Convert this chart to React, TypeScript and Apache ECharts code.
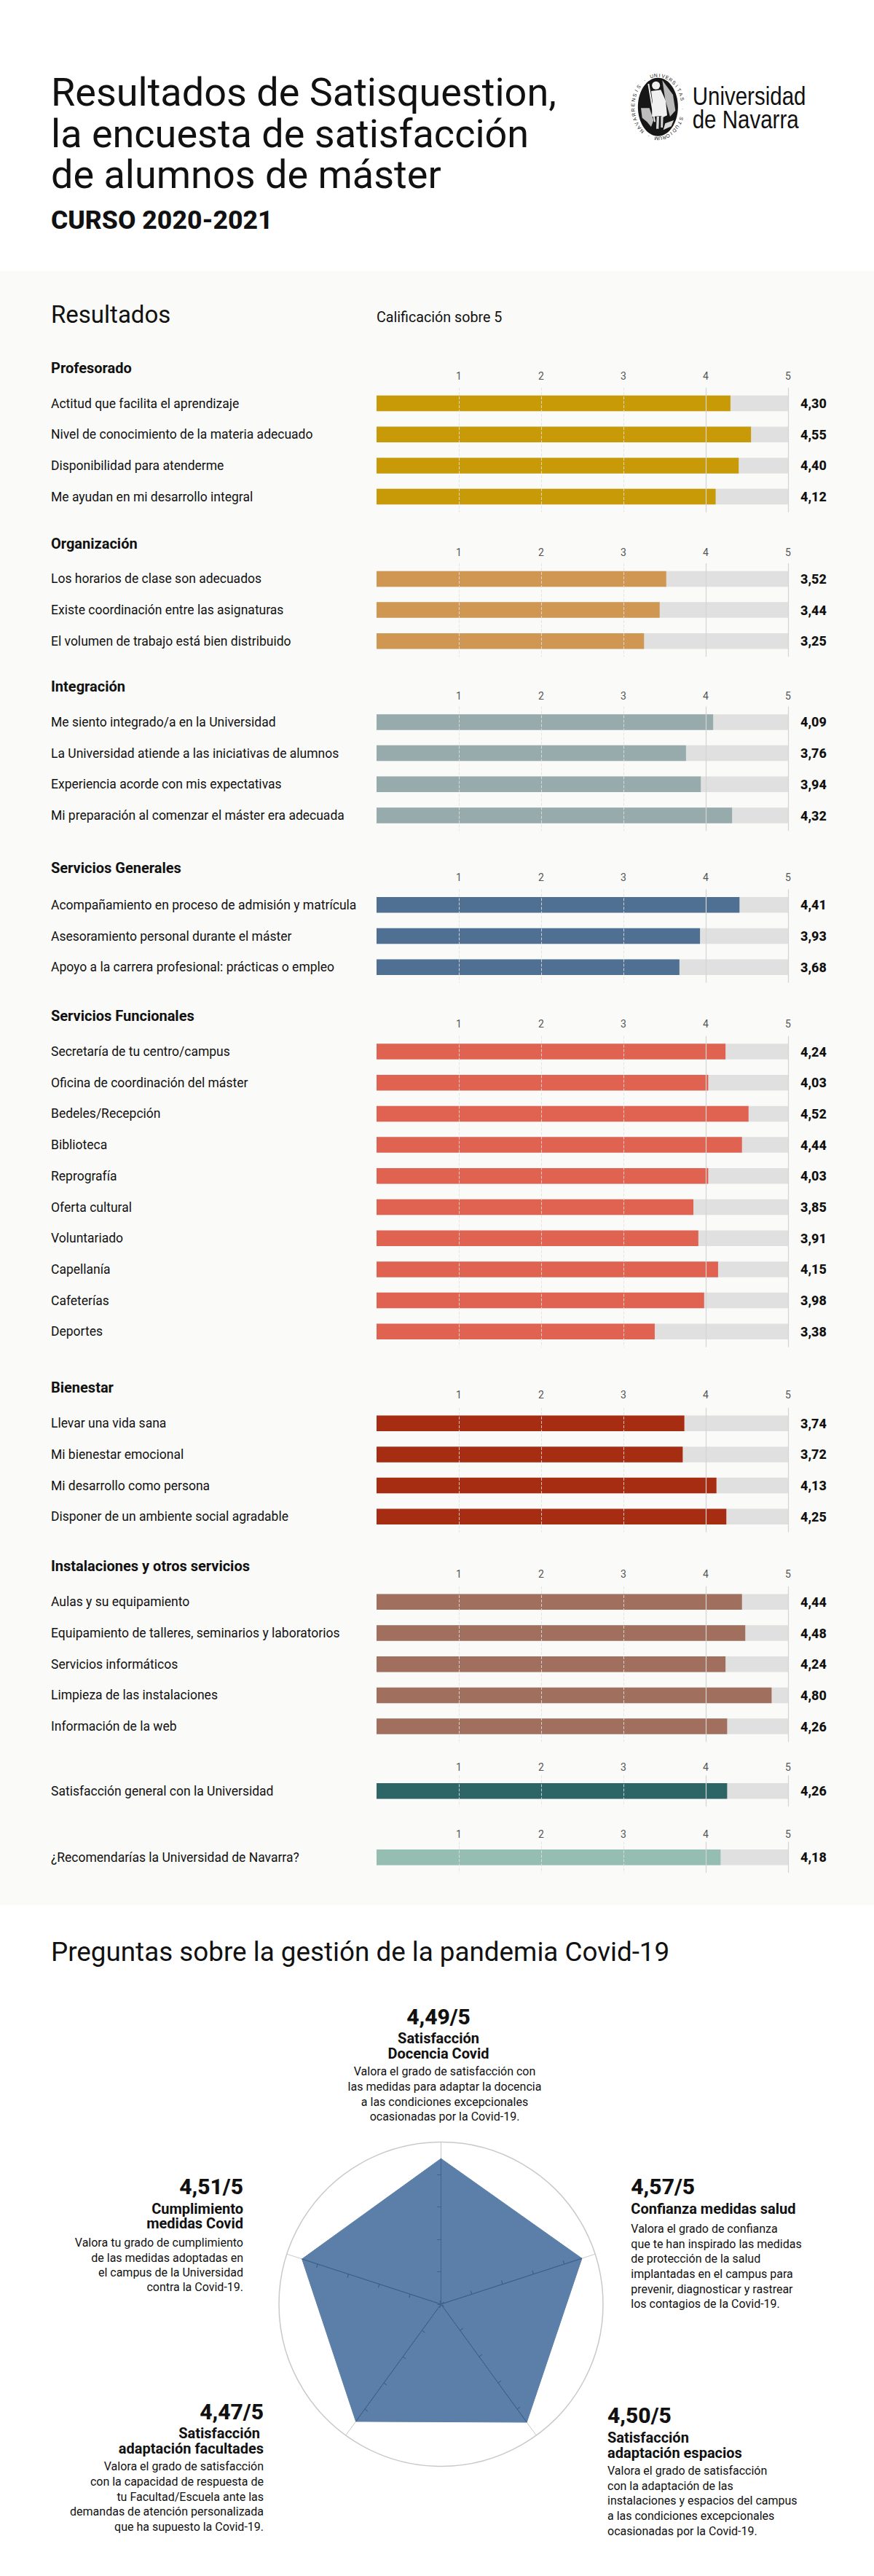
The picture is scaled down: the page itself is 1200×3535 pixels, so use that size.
import React, { useEffect, useRef } from "react";
import * as echarts from "echarts";

const FONT = "Roboto";
const INK = "#111111";
const MAX_SCORE = 5;
const axisTicks = [1, 2, 3, 4, 5];

const profesoradoLabels = ["Actitud que facilita el aprendizaje", "Nivel de conocimiento de la materia adecuado", "Disponibilidad para atenderme", "Me ayudan en mi desarrollo integral"];
const profesoradoValues = [4.3, 4.55, 4.4, 4.12];
const organizacionLabels = ["Los horarios de clase son adecuados", "Existe coordinación entre las asignaturas", "El volumen de trabajo está bien distribuido"];
const organizacionValues = [3.52, 3.44, 3.25];
const integracionLabels = ["Me siento integrado/a en la Universidad", "La Universidad atiende a las iniciativas de alumnos", "Experiencia acorde con mis expectativas", "Mi preparación al comenzar el máster era adecuada"];
const integracionValues = [4.09, 3.76, 3.94, 4.32];
const generalesLabels = ["Acompañamiento en proceso de admisión y matrícula", "Asesoramiento personal durante el máster", "Apoyo a la carrera profesional: prácticas o empleo"];
const generalesValues = [4.41, 3.93, 3.68];
const funcionalesLabels = ["Secretaría de tu centro/campus", "Oficina de coordinación del máster", "Bedeles/Recepción", "Biblioteca", "Reprografía", "Oferta cultural", "Voluntariado", "Capellanía", "Cafeterías", "Deportes"];
const funcionalesValues = [4.24, 4.03, 4.52, 4.44, 4.03, 3.85, 3.91, 4.15, 3.98, 3.38];
const bienestarLabels = ["Llevar una vida sana", "Mi bienestar emocional", "Mi desarrollo como persona", "Disponer de un ambiente social agradable"];
const bienestarValues = [3.74, 3.72, 4.13, 4.25];
const instalacionesLabels = ["Aulas y su equipamiento", "Equipamiento de talleres, seminarios y laboratorios", "Servicios informáticos", "Limpieza de las instalaciones", "Información de la web"];
const instalacionesValues = [4.44, 4.48, 4.24, 4.8, 4.26];
const generalLabels = ["Satisfacción general con la Universidad"];
const generalValues = [4.26];
const recomiendaLabels = ["¿Recomendarías la Universidad de Navarra?"];
const recomiendaValues = [4.18];

const sections = [
  { title: "Profesorado", labels: profesoradoLabels, values: profesoradoValues, color: "#c99a07", first: 553.5, head: 505, tick: 515.5 },
  { title: "Organización", labels: organizacionLabels, values: organizacionValues, color: "#cf9752", first: 794.4, head: 745.8, tick: 758.4 },
  { title: "Integración", labels: integracionLabels, values: integracionValues, color: "#98abac", first: 990.9, head: 942, tick: 954.7 },
  { title: "Servicios Generales", labels: generalesLabels, values: generalesValues, color: "#4f7093", first: 1241.8, head: 1191, tick: 1203.5 },
  { title: "Servicios Funcionales", labels: funcionalesLabels, values: funcionalesValues, color: "#e06352", first: 1443, head: 1394, tick: 1405 },
  { title: "Bienestar", labels: bienestarLabels, values: bienestarValues, color: "#a62d12", first: 1953.2, head: 1904.4, tick: 1913.5 },
  { title: "Instalaciones y otros servicios", labels: instalacionesLabels, values: instalacionesValues, color: "#a06f5e", first: 2198.3, head: 2149.3, tick: 2160.3 },
  { title: "", labels: generalLabels, values: generalValues, color: "#2d6566", first: 2457.8, head: 0, tick: 2425.3 },
  { title: "", labels: recomiendaLabels, values: recomiendaValues, color: "#95bdb2", first: 2548.7, head: 0, tick: 2516.6 },
];

const covidNames = ["Satisfacción Docencia Covid", "Cumplimiento medidas Covid", "Satisfacción adaptación facultades", "Satisfacción adaptación espacios", "Confianza medidas salud"];
const covidValues = [4.49, 4.51, 4.47, 4.5, 4.57];

const covidNotes = [
  { score: "4,49/5", align: "center", scoreX: 602, scoreY: 2767.6, headX: 602, heads: [["Satisfacción", 2796.8], ["Docencia Covid", 2817.7]], bodyX: 610.5, body: [["Valora el grado de satisfacción con", 2842.7], ["las medidas para adaptar la docencia", 2863.3], ["a las condiciones excepcionales", 2884], ["ocasionadas por la Covid-19.", 2904.7]] },
  { score: "4,51/5", align: "right", scoreX: 334, scoreY: 3000.7, headX: 334, heads: [["Cumplimiento", 3030.5], ["medidas Covid", 3050.8]], bodyX: 334, body: [["Valora tu grado de cumplimiento", 3077], ["de las medidas adoptadas en", 3098], ["el campus de la Universidad", 3118.3], ["contra la Covid-19.", 3138.7]] },
  { score: "4,47/5", align: "right", scoreX: 362, scoreY: 3309.6, headX: 362, heads: [["Satisfacción ", 3339.4], ["adaptación facultades", 3359.7]], bodyX: 362, body: [["Valora el grado de satisfacción", 3384.7], ["con la capacidad de respuesta de", 3405.6], ["tu Facultad/Escuela ante las", 3426], ["demandas de atención personalizada", 3446.8], ["que ha supuesto la Covid-19.", 3467.6]] },
  { score: "4,50/5", align: "left", scoreX: 834, scoreY: 3314.4, headX: 834, heads: [["Satisfacción", 3344.8], ["adaptación espacios", 3365.7]], bodyX: 834, body: [["Valora el grado de satisfacción", 3390], ["con la adaptación de las", 3411], ["instalaciones y espacios del campus", 3431.8], ["a las condiciones excepcionales", 3452.3], ["ocasionadas por la Covid-19.", 3473]] },
  { score: "4,57/5", align: "left", scoreX: 866.3, scoreY: 3000.7, headX: 866.3, heads: [["Confianza medidas salud", 3030.5]], bodyX: 866.3, body: [["Valora el grado de confianza", 3058.6], ["que te han inspirado las medidas", 3079.4], ["de protección de la salud", 3099.7], ["implantadas en el campus para", 3120.6], ["prevenir, diagnosticar y rastrear", 3141.4], ["los contagios de la Covid-19.", 3161.7]] },
];

const titleLines: [string, number][] = [["Resultados de Satisquestion,", 126.8], ["la encuesta de satisfacción", 183.2], ["de alumnos de máster", 239.6]];
const sealText = "NAVARRENSIS · UNIVERSITAS · STUDIORUM · ";

const ROW = 42.7;
const LEFT = 517;
const WIDTH = 565;
const RADAR_C = [605.5, 3162];
const RADAR_R = 222.5;

const fmt = (v: number) => v.toFixed(2).replace(".", ",");

function txt(text: string, x: number, y: number, size: number, weight: any = 400, align = "left", fill = INK): any {
  return { type: "text", x, y, z: 20, silent: true, style: { text, fontFamily: FONT, fontSize: size, fontWeight: weight, fill, align, verticalAlign: "middle" } };
}

function logo(): any[] {
  const px = (x: number) => 820 + x / 3;
  const py = (y: number) => 80 + y / 3;
  const poly = (pts: number[][], fill: string) => ({ type: "polygon", z: 21, silent: true, shape: { points: pts.map(([a, b]) => [px(a), py(b)]) }, style: { fill } });
  const cx = px(250), cy = py(200);
  const letters = Array.from(sealText).map((ch, i) => {
    const phi = (i / sealText.length) * Math.PI * 2 + (Math.PI * 1.22);
    return {
      type: "text", z: 21, silent: true,
      x: cx + Math.sin(phi) * 34.5, y: cy - Math.cos(phi) * 43.5,
      rotation: -phi,
      style: { text: ch, fontFamily: "Liberation Sans", fontSize: 6.8, fill: "#222", align: "center", verticalAlign: "middle" },
    };
  });
  return [
    { type: "ellipse", z: 20, silent: true, shape: { cx, cy, rx: 27.5, ry: 40 }, style: { fill: "#161616" } },
    { type: "circle", z: 21, silent: true, shape: { cx: px(242), cy: py(112), r: 5.5 }, style: { fill: "#f0f0f0" } },
    poly([[222, 135], [262, 130], [282, 175], [288, 235], [272, 242], [262, 238], [225, 240], [228, 180]], "#f0f0f0"),
    poly([[268, 90], [312, 150], [322, 215], [300, 240], [280, 170]], "#b9b9b9"),
    poly([[208, 105], [214, 105], [240, 262], [234, 262]], "#f0f0f0"),
    poly([[245, 240], [255, 240], [253, 290], [243, 290]], "#d8d8d8"),
    poly([[262, 240], [272, 240], [270, 285], [262, 285]], "#d8d8d8"),
    poly([[180, 205], [215, 205], [232, 255], [222, 282], [205, 262], [185, 245]], "#bdbdbd"),
    poly([[280, 268], [315, 255], [305, 280], [272, 295]], "#d8d8d8"),
    ...letters,
    { type: "text", z: 20, silent: true, x: 950.7, y: 131.7, scaleY: 1.2, style: { text: "Universidad", fontFamily: "Liberation Sans", fontSize: 29.5, fill: "#111", align: "left", verticalAlign: "middle" } },
    { type: "text", z: 20, silent: true, x: 950.7, y: 164, scaleY: 1.2, style: { text: "de Navarra", fontFamily: "Liberation Sans", fontSize: 29.5, fill: "#111", align: "left", verticalAlign: "middle" } },
  ];
}

function buildOption(): any {
  const grid: any[] = [], xAxis: any[] = [], yAxis: any[] = [], series: any[] = [];
  const graphic: any[] = [
    { type: "rect", z: -10, silent: true, shape: { x: 0, y: 372, width: 1200, height: 2242 }, style: { fill: "#fafaf8" } },
    ...titleLines.map(([t, y]) => txt(t, 70, y, 54)),
    txt("CURSO 2020-2021", 70, 302, 35.6, 800),
    txt("Resultados", 70, 431, 33),
    txt("Calificación sobre 5", 517, 435, 19.7),
    txt("Preguntas sobre la gestión de la pandemia Covid-19", 70, 2678, 36.8),
    ...logo(),
  ];

  sections.forEach((s, i) => {
    const top = s.first - ROW / 2;
    const height = s.values.length * ROW;
    grid.push({ left: LEFT, width: WIDTH, top, height, containLabel: false });
    xAxis.push({
      type: "value", gridIndex: i, min: 0, max: MAX_SCORE, interval: 1, position: "top",
      axisLine: { show: false }, axisTick: { show: false }, splitLine: { show: false },
      axisLabel: { margin: top - s.tick - 7, fontFamily: FONT, fontSize: 14, color: "#555", showMinLabel: false, formatter: (v: number) => (axisTicks.includes(v) ? String(v) : "") },
    });
    yAxis.push({
      type: "category", gridIndex: i, inverse: true, data: s.labels,
      axisLine: { show: false }, axisTick: { show: false },
      axisLabel: { interval: 0, align: "left", margin: LEFT - 70, fontFamily: FONT, fontSize: 17.5, color: INK },
    });
    yAxis.push({
      type: "category", gridIndex: i, inverse: true, position: "right", data: s.values.map(fmt),
      axisLine: { show: false }, axisTick: { show: false },
      axisLabel: { interval: 0, margin: 17, fontFamily: FONT, fontSize: 18, fontWeight: 800, color: INK },
    });
    series.push({
      type: "bar", xAxisIndex: i, yAxisIndex: i * 2, data: s.values, barWidth: 21.5, silent: true,
      itemStyle: { color: s.color },
      showBackground: true, backgroundStyle: { color: "#e0e0e0" },
      markLine: {
        silent: true, symbol: "none", label: { show: false }, animation: false,
        data: axisTicks.map((t) => ({ xAxis: t, lineStyle: t < 4 ? { type: "dashed", color: "rgba(225,225,225,0.85)", width: 1 } : { type: "solid", color: "#d4d4d4", width: 1.2 } })),
      },
    });
    if (s.title) graphic.push(txt(s.title, 70, s.head, 20, 700));
  });

  covidNotes.forEach((n) => {
    graphic.push(txt(n.score, n.scoreX, n.scoreY, 30, 800, n.align));
    n.heads.forEach(([t, y]) => graphic.push(txt(t as string, n.headX, y as number, 20, 700, n.align)));
    n.body.forEach(([t, y]) => graphic.push(txt(t as string, n.bodyX, y as number, 16, 400, n.align)));
  });

  const noName = (max: number) => covidNames.map((name) => ({ name, max }));
  const tickRadar = (inside: boolean) => ({
    center: RADAR_C, radius: (RADAR_R * 4) / 5, startAngle: 90, z: 6, splitNumber: 4, indicator: noName(4),
    axisName: { show: false }, axisLine: { show: false }, splitLine: { show: false }, splitArea: { show: false }, axisLabel: { show: false },
    axisTick: { show: true, inside, length: 5, lineStyle: { color: "#3f618c", width: 1 } },
  });
  const radar = [
    {
      center: RADAR_C, radius: RADAR_R, startAngle: 90, shape: "circle", splitNumber: 1, indicator: noName(MAX_SCORE),
      axisName: { show: false }, splitArea: { show: false }, axisTick: { show: false }, axisLabel: { show: false },
      axisLine: { lineStyle: { color: "#c9c9c9", width: 1 } }, splitLine: { lineStyle: { color: "#c9c9c9", width: 1.5 } },
    },
    tickRadar(false),
    tickRadar(true),
  ];
  series.push({
    type: "radar", radarIndex: 0, z: 3, silent: true, symbol: "none",
    lineStyle: { color: "#5b7fa8", width: 1 }, areaStyle: { color: "#5b7fa8", opacity: 1 },
    data: [{ value: covidValues, name: "Covid-19" }],
  });
  covidValues.forEach((v, i) => {
    series.push({
      type: "radar", radarIndex: 0, z: 4, silent: true, symbol: "none",
      lineStyle: { color: "#3f618c", width: 1 },
      data: [{ value: covidValues.map((_, j) => (j === i ? v : 0)), name: covidNames[i] }],
    });
  });

  return { animation: false, backgroundColor: "#ffffff", tooltip: { show: false }, grid, xAxis, yAxis, radar, series, graphic };
}

export default function App() {
  const ref = useRef<HTMLDivElement>(null);
  useEffect(() => {
    const chart = echarts.init(ref.current!, undefined, { renderer: "svg" });
    chart.setOption(buildOption());
    return () => chart.dispose();
  }, []);
  return <div ref={ref} style={{ position: "absolute", left: 0, top: 0, width: 1200, height: 3535 }} />;
}
